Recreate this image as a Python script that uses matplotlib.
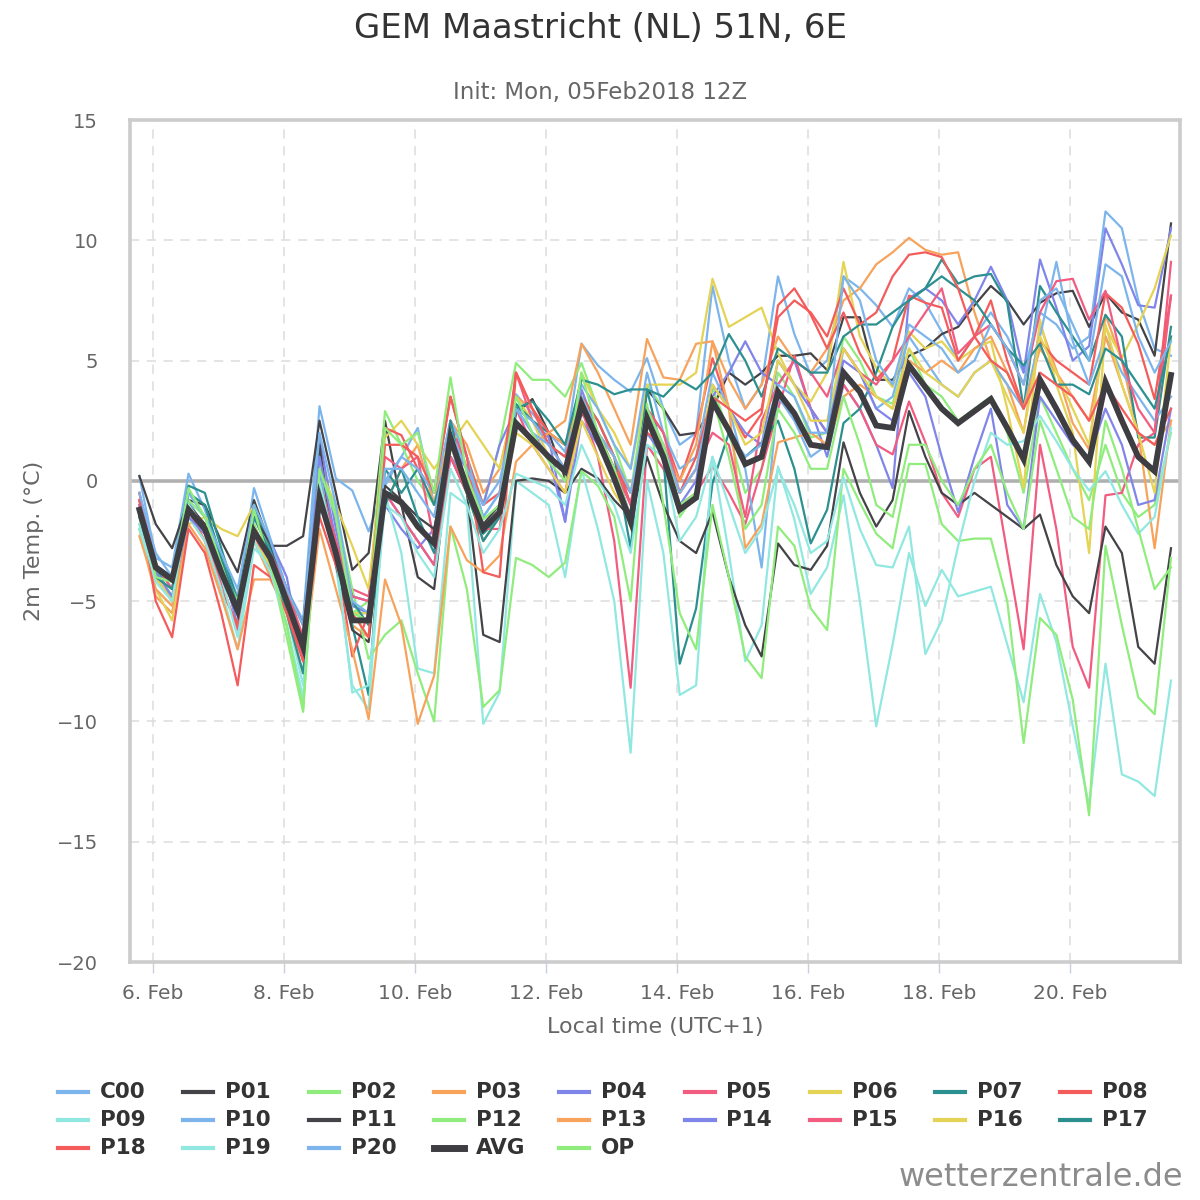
import matplotlib
matplotlib.use("Agg")
import matplotlib.pyplot as plt
import matplotlib.dates as mdates
from matplotlib.lines import Line2D
import pandas as pd
import numpy as np

plt.rcParams['font.family'] = ['DejaVu Sans']

times = pd.date_range('2018-02-05 19:00', periods=64, freq='6h')

names = ['C00', 'P01', 'P02', 'P03', 'P04', 'P05', 'P06', 'P07', 'P08', 'P09',
         'P10', 'P11', 'P12', 'P13', 'P14', 'P15', 'P16', 'P17', 'P18', 'P19',
         'P20', 'AVG', 'OP']

palette = ['#7cb5ec', '#434348', '#90ed7d', '#f7a35c', '#8085e9',
           '#f15c80', '#e4d354', '#2b908f', '#f45b5b', '#91e8e1']

C00 = [0.2, -3.2, -3.6, 0.3, -1.2, -3.2, -4.8, -0.3, -2.4, -4.5, -5.8, 3.1, 0.1, -0.4, -2.1, -0.2,
       1.0, 2.2, -1.0, 2.5, 0.5, -1.5, -0.5, 3.6, 2.8, 2.0, 1.2, 5.7, 4.8, 4.2, 3.7, 5.1,
       3.0, 1.5, 2.0, 8.1, 5.0, 3.0, 4.0, 8.5, 6.1, 4.4, 5.0, 8.5, 8.0, 7.3, 6.4, 8.0,
       7.4, 6.2, 5.0, 6.0, 7.0, 6.0, 4.5, 7.0, 6.5, 5.5, 6.0, 11.2, 10.5, 7.5, 5.5, 5.2]
P01 = [0.2, -1.8, -2.8, -0.8, -1.0, -2.5, -3.8, -0.8, -2.7, -2.7, -2.3, 2.5, -0.5, -3.7, -3.0, 2.5,
       -1.0, -4.0, -4.5, 1.5, 0.0, -1.8, -1.0, 2.8, 3.4, 2.0, 0.1, 2.8, 2.0, 0.5, -1.5, 3.8,
       3.0, 1.9, 2.0, 3.0, 4.5, 4.0, 4.5, 5.2, 5.2, 5.3, 4.6, 6.8, 6.8, 4.2, 4.2, 5.2,
       5.5, 6.1, 6.4, 7.3, 8.1, 7.5, 6.5, 7.4, 7.8, 7.9, 6.4, 7.8, 7.0, 6.7, 5.2, 10.7]
P02 = [-1.8, -4.0, -4.5, -0.5, -1.5, -3.2, -5.5, -1.0, -3.5, -6.0, -9.3, 1.0, -1.5, -5.5, -5.0, 2.9,
       1.5, 0.0, -1.0, 2.5, 1.0, -1.0, 1.5, 4.9, 4.2, 4.2, 3.5, 4.9, 3.0, 1.5, -0.5, 4.0,
       3.0, -1.5, -0.5, 3.9, 2.0, -0.5, 0.5, 4.5, 3.5, 1.8, 2.0, 6.0, 5.0, 3.5, 3.2, 5.5,
       4.0, 3.5, 2.5, 3.0, 3.5, 2.0, -0.5, 3.5, 2.0, 0.5, -0.8, 1.5, -0.5, -1.5, -1.0, 2.0]
P03 = [-2.0, -4.8, -5.5, -1.5, -2.5, -4.5, -6.0, -2.5, -4.0, -5.5, -7.0, -0.5, -2.5, -6.0, -6.5, -1.0,
       0.5, 1.5, -1.0, 2.5, 1.5, -0.5, 0.5, 3.5, 3.0, 2.0, 2.5, 5.7, 4.5, 3.0, 1.5, 5.9,
       4.3, 4.2, 5.7, 5.8, 4.2, 3.0, 4.0, 6.0, 5.0, 4.5, 5.5, 7.5, 8.0, 9.0, 9.5, 10.1,
       9.6, 9.4, 9.5, 7.0, 5.0, 4.0, 2.0, 6.5, 4.6, 2.4, 1.3, 6.9, 5.0, 2.0, -2.8, 2.5]
P04 = [-0.8, -3.5, -5.0, -1.0, -1.8, -3.5, -6.0, -1.5, -2.5, -4.0, -7.5, 1.8, -2.0, -5.2, -5.5, -1.0,
       -2.0, -2.8, -2.0, 1.5, 0.5, -1.0, 1.5, 3.0, 2.5, 1.8, -1.7, 3.8, 2.0, 1.0, -1.0, 2.5,
       1.5, -0.5, 0.5, 3.5, 4.5, 5.8, 4.5, 4.0, 5.0, 3.0, 1.0, 4.0, 3.0, 1.5, -0.3, 7.6,
       8.0, 7.5, 6.5, 7.5, 8.9, 7.5, 4.5, 9.2, 7.2, 5.0, 5.6, 10.5, 9.0, 7.3, 7.2, 10.5]
P05 = [-1.0, -4.0, -5.0, -1.5, -2.2, -4.2, -6.2, -2.2, -3.8, -5.5, -7.2, 0.5, -3.0, -4.5, -4.8, 1.0,
       0.5, 1.0, -2.5, 2.5, 0.5, -2.0, -1.5, 4.5, 2.5, 1.5, 0.5, 3.0, 1.0, -2.5, -8.6, 1.5,
       0.5, -1.0, -0.5, 0.6, -0.5, -1.8, 0.5, 3.0, 5.2, 3.0, 2.0, 4.0, 3.0, 1.5, 1.1, 3.3,
       1.6, -0.5, -1.5, 0.5, 1.0, -3.0, -7.0, 1.5, -2.0, -6.9, -8.6, -0.6, -0.5, 1.5, 2.0, 9.1]
P06 = [-2.0, -4.5, -5.8, -1.8, -1.5, -2.0, -2.3, -1.0, -3.0, -4.5, -6.5, 0.5, -1.0, -2.7, -4.5, 1.8,
       2.5, 1.5, 0.5, 1.5, 2.5, 1.5, 0.5, 3.5, 2.5, 1.0, 0.5, 4.5, 3.0, 2.0, 0.5, 4.0,
       4.0, 4.0, 4.5, 8.4, 6.4, 6.8, 7.2, 5.3, 4.0, 3.3, 4.5, 9.1, 6.0, 4.7, 3.9, 6.2,
       5.5, 5.8, 5.0, 5.5, 5.8, 3.0, -0.3, 6.7, 4.0, 2.0, -3.0, 6.4, 5.1, 6.5, 8.0, 10.2]
P07 = [-1.2, -3.8, -4.2, -0.2, -0.5, -2.8, -5.0, -1.0, -2.8, -4.8, -7.0, 0.5, -2.5, -6.0, -8.9, 0.5,
       -0.5, 0.5, -1.0, 1.5, -0.5, -2.2, -1.5, 3.2, 2.5, 2.0, 1.5, 3.5, 2.5, 1.0, -2.8, 3.8,
       1.0, -7.6, -5.3, -0.1, 2.0, 1.0, 1.6, 2.5, 0.5, -2.6, -1.2, 2.4, 3.0, 4.5, 6.4, 7.5,
       8.0, 9.2, 8.2, 8.5, 8.6, 7.4, 3.0, 8.1, 7.0, 6.0, 5.0, 6.9, 6.0, 1.8, 1.8, 6.4]
P08 = [-0.5, -3.5, -4.2, -1.2, -2.5, -4.5, -6.0, -1.8, -3.5, -5.0, -7.0, -0.5, -3.0, -7.3, -5.5, 2.2,
       1.9, 0.5, -0.5, 3.5, 1.0, -1.0, -0.5, 4.5, 3.0, 2.0, 1.5, 3.5, 2.5, 1.0, -1.0, 3.0,
       2.0, 0.0, 2.0, 5.1, 3.0, 1.8, 2.8, 7.3, 8.0, 6.9, 5.5, 7.0, 5.3, 4.2, 5.0, 7.7,
       7.4, 7.2, 5.0, 6.0, 7.5, 5.0, 3.0, 5.8, 5.0, 4.5, 4.0, 7.8, 7.2, 5.7, 3.4, 7.7]
P09 = [-2.0, -4.5, -5.2, -1.5, -2.5, -4.5, -7.0, -2.8, -3.5, -5.5, -8.5, -0.5, -3.5, -8.5, -9.5, -0.5,
       -3.0, -7.8, -8.0, -0.5, -1.0, -10.1, -8.8, 0.0, -0.5, -1.0, -4.0, 0.5, -2.0, -5.0, -11.3, 0.0,
       -3.0, -8.9, -8.5, 1.0, -3.0, -7.5, -6.0, 0.6, -1.6, -4.7, -3.6, -0.6, -5.0, -10.2, -6.8, -3.0,
       -5.2, -3.7, -4.8, -4.6, -4.4, -6.8, -9.2, -4.7, -6.7, -10.2, -13.5, -7.6, -12.2, -12.5, -13.1, -8.3]
P10 = [-0.8, -3.5, -4.5, -0.8, -2.0, -3.8, -5.5, -1.5, -3.0, -5.0, -7.0, 0.5, -3.0, -5.5, -5.5, 0.0,
       1.0, 0.5, -0.5, 2.5, 1.0, -1.5, -0.5, 3.0, 2.5, 1.5, 1.0, 4.0, 3.0, 1.5, 0.5, 4.5,
       2.0, 0.5, 1.0, 4.5, 3.0, 0.5, -3.6, 3.5, 2.5, 1.0, 1.5, 5.5, 4.5, 3.0, 3.5, 6.0,
       5.0, 4.0, 3.5, 4.5, 5.0, 4.0, 3.0, 6.0, 9.1, 5.8, 4.0, 6.0, 4.5, 3.5, 2.5, 3.5]
P11 = [-1.5, -3.5, -4.0, -1.0, -1.8, -3.6, -5.0, -1.5, -2.6, -4.5, -6.0, 1.5, -3.5, -6.2, -6.7, -0.2,
       -0.8, -1.5, -2.0, 1.0, -0.5, -6.4, -6.7, 0.0, 0.1, 0.0, -0.5, 0.5, 0.1, -0.8, -1.5, 1.0,
       -1.0, -2.5, -3.0, -1.3, -4.0, -6.0, -7.3, -2.6, -3.5, -3.7, -2.7, 1.6, -0.5, -1.9, -0.8, 2.9,
       1.0, -0.5, -1.0, -0.5, -1.0, -1.5, -2.0, -1.4, -3.5, -4.8, -5.5, -1.9, -3.0, -6.9, -7.6, -2.8]
P12 = [-1.5, -3.8, -4.8, -0.8, -1.5, -3.5, -5.0, -1.8, -3.5, -6.5, -9.6, 0.5, -1.2, -4.5, -7.4, -6.4,
       -5.8, -8.0, -10.0, -1.9, -4.5, -9.4, -8.7, -3.2, -3.5, -4.0, -3.4, 0.4, -0.2, -1.5, -5.0, 3.2,
       -1.0, -5.5, -7.0, -1.0, -4.0, -7.3, -8.2, -1.9, -2.7, -5.3, -6.2, 0.5, -0.9, -2.2, -2.8, 0.7,
       0.7, -1.8, -2.5, -2.4, -2.4, -5.0, -10.9, -5.7, -6.4, -9.1, -13.9, -2.7, -6.0, -9.0, -9.7, -3.2]
P13 = [-2.3, -4.5, -5.2, -1.8, -2.8, -4.8, -7.0, -4.1, -4.1, -5.5, -8.0, -2.0, -4.5, -7.0, -9.9, -4.1,
       -6.0, -10.1, -8.1, -1.9, -3.3, -3.8, -3.1, 0.8, 1.5, 2.0, 1.5, 3.5, 2.0, 1.0, -0.5, 2.5,
       1.5, 0.0, 1.5, 5.8, 3.0, -2.8, -1.8, 1.6, 1.8, 2.0, 1.5, 3.5, 4.0, 3.5, 3.0, 5.0,
       4.5, 5.0, 4.5, 5.5, 6.0, 4.5, 3.0, 5.5, 4.5, 3.5, 2.5, 6.0, 4.0, 2.0, 1.5, 2.5]
P14 = [-1.0, -3.8, -4.8, -1.5, -2.2, -4.0, -5.5, -2.0, -3.5, -5.0, -6.5, 1.0, -2.5, -4.8, -5.0, -0.5,
       -1.5, -2.5, -3.5, 1.0, 0.0, -2.5, -1.5, 3.0, 2.0, 1.0, -1.7, 2.5, 1.5, 0.5, -1.5, 2.0,
       1.0, -1.0, 0.0, 4.0, 3.0, 2.0, 1.5, 5.0, 4.0, 3.0, 2.0, 5.0, 4.5, 3.0, 2.5, 4.5,
       3.5, 1.0, -1.3, 1.0, 3.0, -1.0, -2.0, 3.5, 2.5, 1.5, 1.0, 3.0, 1.5, -1.0, -0.8, 3.0]
P15 = [-0.5, -3.5, -4.5, -1.0, -2.0, -3.5, -5.5, -2.0, -3.0, -4.5, -6.5, 0.0, -2.5, -4.8, -5.0, -0.5,
       -1.5, -2.5, -3.5, 1.0, -0.5, -2.0, -2.0, 3.0, 1.5, 0.5, -0.5, 3.0, 2.0, 0.5, -1.0, 3.0,
       2.0, -0.5, 0.5, 2.0, 1.5, -1.5, 2.5, 4.0, 5.0, 4.5, 3.5, 5.5, 4.5, 4.0, 5.0, 6.0,
       7.0, 8.0, 5.3, 6.0, 6.5, 5.5, 4.0, 7.0, 8.3, 8.4, 6.7, 7.9, 5.0, 3.0, 2.0, 7.7]
P16 = [-1.5, -4.0, -5.0, -1.0, -2.0, -3.5, -5.5, -2.5, -3.5, -5.0, -7.0, -0.5, -3.0, -5.5, -5.5, -0.5,
       -1.0, -2.0, -2.5, 1.5, -0.5, -2.5, -1.5, 2.0, 1.5, 0.5, -0.5, 2.5, 1.0, -0.5, -1.5, 2.5,
       1.5, -0.5, 0.5, 4.0, 3.0, 1.5, 2.0, 5.0, 4.0, 2.5, 2.5, 5.5, 4.5, 3.5, 3.0, 5.5,
       4.5, 4.0, 3.5, 4.5, 5.0, 3.5, 2.0, 6.0, 4.5, 3.0, 1.5, 6.5, 4.0, 2.0, -0.5, 6.0]
P17 = [-1.5, -4.0, -4.5, -0.5, -1.0, -3.2, -5.2, -1.5, -3.0, -5.5, -8.0, 0.0, -3.0, -5.0, -6.0, -1.0,
       0.5, -1.5, -3.0, 2.5, -0.5, -2.5, -1.5, 3.0, 3.3, 2.5, 1.5, 4.2, 4.0, 3.6, 3.8, 3.8,
       3.5, 4.2, 3.8, 4.5, 6.1, 5.0, 3.5, 5.5, 5.0, 4.5, 4.5, 6.0, 6.5, 6.5, 7.0, 7.5,
       8.0, 8.5, 8.0, 7.5, 6.5, 5.5, 4.8, 5.7, 4.0, 4.0, 3.6, 5.5, 5.0, 4.0, 3.0, 6.0]
P18 = [-0.8, -5.0, -6.5, -2.0, -3.0, -5.5, -8.5, -3.5, -4.0, -5.5, -7.5, -1.5, -3.5, -5.5, -6.5, 1.5,
       1.5, 1.0, -0.5, 3.5, 1.0, -3.8, -4.0, 4.5, 3.0, 1.5, 1.0, 3.0, 2.0, 0.5, -0.5, 2.0,
       1.5, -0.5, 1.0, 3.5, 3.0, 2.5, 3.0, 6.8, 7.5, 7.0, 6.0, 8.0, 6.5, 7.0, 8.5, 9.4,
       9.5, 9.3, 8.0, 6.0, 5.0, 4.5, 3.0, 4.5, 4.0, 3.5, 2.5, 4.0, 3.0, 2.0, 1.5, 3.0]
P19 = [-1.8, -4.2, -5.0, -1.0, -2.0, -4.0, -6.5, -2.5, -3.8, -6.0, -9.0, 0.0, -3.0, -8.8, -8.5, -1.0,
       -1.5, -3.0, -4.0, 0.5, -1.0, -3.0, -2.0, 0.3, 0.0, -0.3, -1.0, 1.5, 0.0, -1.0, -3.0, 1.5,
       1.0, -2.5, -1.5, 1.0, -1.0, -3.0, -2.0, 0.5, -1.0, -3.0, -2.5, 0.15, -2.0, -3.5, -3.6, -1.9,
       -7.2, -5.8, -2.7, 0.0, 2.0, 1.5, 1.65, 2.7, 1.65, 0.5, -0.4, 0.4, -1.0, -2.2, -1.5, 2.2]
P20 = [-0.5, -3.0, -4.0, -0.5, -1.5, -3.0, -4.5, -1.0, -2.5, -4.5, -6.0, 2.0, -1.0, -5.0, -5.5, 0.5,
       0.5, -0.5, -1.5, 2.0, 0.5, -1.0, 0.0, 3.0, 2.0, 1.5, 0.5, 3.5, 2.0, 1.0, -0.5, 3.0,
       1.5, -0.5, 0.5, 3.5, 2.0, 1.0, 1.5, 4.0, 3.5, 2.0, 2.0, 8.5, 7.5, 5.0, 4.0, 6.5,
       6.0, 5.5, 4.5, 5.0, 6.5, 5.5, 4.0, 7.5, 8.0, 6.5, 5.0, 9.0, 8.5, 6.0, 4.5, 5.8]
AVG = [-1.2, -3.6, -4.1, -1.2, -2.0, -3.8, -5.4, -2.1, -3.2, -5.0, -6.9, -0.7, -3.0, -5.8, -5.8, -0.5,
       -0.9, -1.9, -2.6, 1.8, -0.3, -2.0, -1.3, 2.4, 1.7, 1.0, 0.4, 3.2, 1.7, 0.1, -1.7, 2.6,
       1.0, -1.2, -0.7, 3.3, 2.1, 0.7, 1.0, 3.7, 2.8, 1.5, 1.4, 4.5, 3.7, 2.3, 2.2, 4.8,
       3.9, 3.0, 2.4, 2.9, 3.4, 2.2, 0.9, 4.2, 3.0, 1.7, 0.8, 4.1, 2.5, 1.0, 0.4, 4.4]
OP = [-1.2, -4.0, -4.2, -0.3, -1.5, -3.5, -5.5, -1.2, -3.5, -6.0, -9.5, 0.5, -1.5, -5.5, -5.8, 2.2,
      1.5, 2.0, -0.5, 4.3, 0.2, -1.6, -1.0, 3.5, 2.0, 0.8, 0.0, 4.5, 2.0, 0.5, -1.5, 3.0,
      1.5, -1.0, -0.5, 3.5, 1.0, -2.0, -1.0, 3.0, 2.0, 0.5, 0.5, 3.5, 1.5, -1.0, -1.5, 1.5,
      1.5, 0.0, -1.0, 0.5, 1.5, -0.5, -2.0, 2.5, 0.5, -1.5, -2.0, 2.5, 0.5, -2.0, -4.5, -3.6]

series = [C00, P01, P02, P03, P04, P05, P06, P07, P08, P09, P10, P11, P12, P13,
          P14, P15, P16, P17, P18, P19, P20, AVG, OP]

colors = [palette[k % 10] for k in range(21)] + ['#3d3d42', '#90ed7d']

W, H = 1200, 1200
fig = plt.figure(figsize=(12, 12), dpi=100)
ax = fig.add_axes([130 / W, 1 - 962 / H, 1050 / W, 842 / H])

for name, vals, col in zip(names, series, colors):
    lw = 4.2 if name == 'AVG' else 1.6
    z = 5 if name == 'AVG' else 3
    ax.plot(times, vals, color=col, lw=lw, zorder=z,
            solid_joinstyle='miter' if name == 'AVG' else 'round')

ax.axhline(0, color='#b0b0b0', lw=2.6, zorder=2)

ax.set_ylim(-20, 15)
ax.set_yticks(range(-20, 16, 5))
ax.set_yticklabels([f'{v}'.replace('-', '\u2212') for v in range(-20, 16, 5)])

left = pd.Timestamp('2018-02-05 15:34')
right = pd.Timestamp('2018-02-21 16:18')
ax.set_xlim(left, right)
ax.xaxis.set_major_locator(mdates.DayLocator(bymonthday=range(6, 22, 2)))
ax.xaxis.set_major_formatter(mdates.DateFormatter('%-d. %b'))

ax.grid(True, color='#dcdcdc', lw=1.1, linestyle=(0, (6, 5)), zorder=0)
ax.set_axisbelow(True)

for s in ax.spines.values():
    s.set_color('#cccccc')
    s.set_linewidth(2.6)

ax.tick_params(axis='y', length=0, pad=23, labelsize=14, labelcolor='#666666')
ax.tick_params(axis='x', length=8, width=1, color='#c8d0dc', pad=8, labelsize=14.5, labelcolor='#666666')

ax.set_xlabel('Local time (UTC+1)', fontsize=16, color='#666666', labelpad=10)
ax.set_ylabel('2m Temp. (°C)', fontsize=16, color='#666666', labelpad=9)

fig.text(0.5, 1 - 28 / H, 'GEM Maastricht (NL) 51N, 6E', ha='center', va='center',
         fontsize=24.5, color='#333333')
fig.text(0.5, 1 - 92 / H, 'Init: Mon, 05Feb2018 12Z', ha='center', va='center',
         fontsize=16.5, color='#666666')

# legend
for k, (name, col) in enumerate(zip(names, colors)):
    row, colm = divmod(k, 9)
    x0 = 58 + colm * 125.3
    y0 = 1092 + row * 28
    lw = 5 if name == 'AVG' else 3
    fig.add_artist(Line2D([x0 / W, (x0 + 30) / W], [1 - y0 / H, 1 - y0 / H],
                          color=col, lw=lw, transform=fig.transFigure))
    fig.text((x0 + 42) / W, 1 - y0 / H, name, ha='left', va='center',
             fontsize=15.5, fontweight='bold', color='#333333')

fig.text(1183 / W, 1 - 1177 / H, 'wetterzentrale.de', ha='right', va='center',
         fontsize=23, color='#8c8c8c')

fig.savefig('out.png', dpi=100)
